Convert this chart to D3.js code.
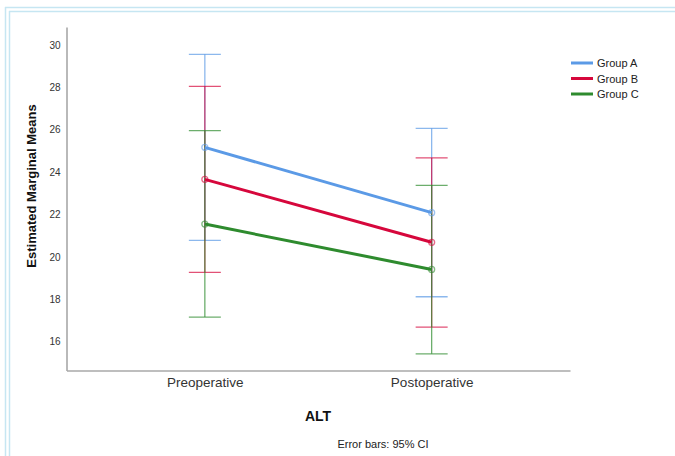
<!DOCTYPE html>
<html><head><meta charset="utf-8">
<script src="https://cdn.jsdelivr.net/npm/d3@7"></script>
<style>body{margin:0;background:#fff;}svg{display:block;font-family:"Liberation Sans",Arial,sans-serif;}</style>
</head><body>
<svg id="c" width="675" height="456"></svg>
<script>
const categories = ["Preoperative", "Postoperative"];
const groups = ["Group A", "Group B", "Group C"];
const means = [[25.17, 22.09], [23.66, 20.69], [21.55, 19.41]];
const lower = [[20.78, 18.12], [19.27, 16.69], [17.16, 15.43]];
const upper = [[29.56, 26.07], [28.05, 24.67], [25.96, 23.38]];
const yTicks = [16, 18, 20, 22, 24, 26, 28, 30];
const colors = ["#5b9ae6", "#d6073c", "#2e8b2e"];

(function(){
const svg = d3.select("#c");
// frame
svg.append("line").attr("x1",5.5).attr("x2",5.5).attr("y1",7).attr("y2",456).attr("stroke","#c6e6f2").attr("stroke-width",1.5);
svg.append("line").attr("x1",9.5).attr("x2",9.5).attr("y1",11).attr("y2",456).attr("stroke","#c6e6f2").attr("stroke-width",1.5);
svg.append("line").attr("x1",5).attr("x2",675).attr("y1",7.5).attr("y2",7.5).attr("stroke","#c6e6f2").attr("stroke-width",1.5);
svg.append("line").attr("x1",9).attr("x2",675).attr("y1",11.5).attr("y2",11.5).attr("stroke","#c6e6f2").attr("stroke-width",1.5);

const mL = 66.5, mR = 570, mT = 27, mB = 370.5;
const y = d3.scaleLinear().domain([16 - (370.5-341.7)/21.19, 30 + (45-27)/21.19]).range([mB, mT]);
const x = d3.scalePoint().domain(categories).range([mL, mR]).padding(0.61);

// axes
const ya = svg.append("g").attr("transform",`translate(${mL},0)`).call(d3.axisLeft(y).tickValues(yTicks).tickSize(0).tickPadding(6));
ya.select(".domain").attr("stroke","#a8a8a8").attr("stroke-width",1.6);
ya.selectAll("text").attr("font-size",10).attr("fill","#333");
const xa = svg.append("g").attr("transform",`translate(0,${mB})`).call(d3.axisBottom(x).tickSize(0).tickPadding(7));
xa.select(".domain").attr("stroke","#a8a8a8").attr("stroke-width",1.6);
xa.selectAll("text").attr("font-size",13.5).attr("fill","#333");

// error bars
const capW = 16;
groups.forEach((g, gi) => {
  const eg = svg.append("g").attr("stroke", colors[gi]).attr("stroke-opacity",0.7).attr("stroke-width",1.3);
  categories.forEach((c, ci) => {
    const cx = x(c);
    eg.append("line").attr("x1",cx).attr("x2",cx).attr("y1",y(lower[gi][ci])).attr("y2",y(upper[gi][ci]));
    eg.append("line").attr("x1",cx-capW).attr("x2",cx+capW).attr("y1",y(lower[gi][ci])).attr("y2",y(lower[gi][ci]));
    eg.append("line").attr("x1",cx-capW).attr("x2",cx+capW).attr("y1",y(upper[gi][ci])).attr("y2",y(upper[gi][ci]));
  });
});
// mean lines
const line = d3.line().x((d,i)=>x(categories[i])).y(d=>y(d));
groups.forEach((g, gi) => {
  svg.append("path").attr("d", line(means[gi])).attr("fill","none").attr("stroke",colors[gi]).attr("stroke-width",3);
  categories.forEach((c, ci) => {
    svg.append("circle").attr("cx",x(c)).attr("cy",y(means[gi][ci])).attr("r",3)
      .attr("fill","none").attr("stroke",colors[gi]).attr("stroke-opacity",0.6).attr("stroke-width",1.3);
  });
});

// labels
svg.append("text").attr("transform",`translate(36,${186}) rotate(-90)`).attr("text-anchor","middle")
  .attr("font-size",13).attr("font-weight","bold").attr("fill","#111").text("Estimated Marginal Means");
svg.append("text").attr("x",318).attr("y",421).attr("text-anchor","middle").attr("font-size",14).attr("font-weight","bold").attr("fill","#111").text("ALT");
svg.append("text").attr("x",383).attr("y",448).attr("text-anchor","middle").attr("font-size",11).attr("fill","#222").text("Error bars: 95% CI");

// legend
groups.forEach((g, gi) => {
  const ly = 63 + gi*15.5;
  svg.append("line").attr("x1",571).attr("x2",593).attr("y1",ly).attr("y2",ly).attr("stroke",colors[gi]).attr("stroke-width",3);
  svg.append("text").attr("x",597).attr("y",ly+4).attr("font-size",11).attr("fill","#222").text(g);
});
})();
</script>
</body></html>
